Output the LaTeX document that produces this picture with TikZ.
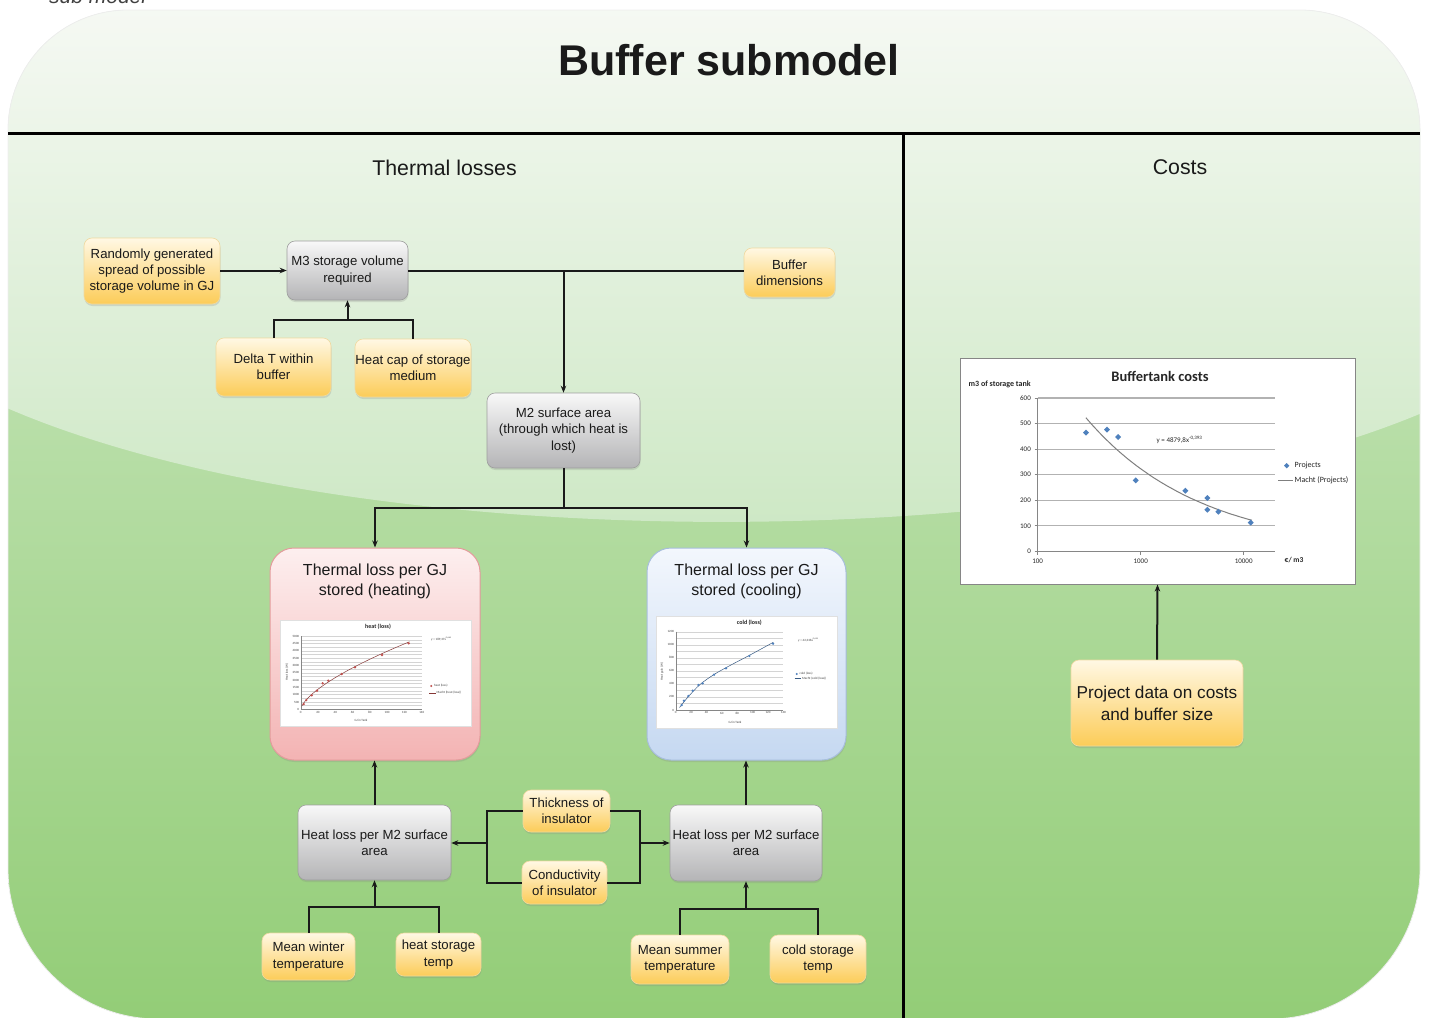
\documentclass[tikz,border=0pt]{standalone}
\usepackage{fontspec}
\setmainfont{Liberation Sans}
\newfontfamily\chartfont{Carlito}
\usetikzlibrary{arrows.meta,shadows,calc}

\definecolor{ink}{HTML}{1A1A1A}
\definecolor{yelTop}{HTML}{FFF8E4}
\definecolor{yelBot}{HTML}{FCCC58}
\definecolor{yelEdge}{HTML}{EFD9A0}
\definecolor{gryTop}{HTML}{F8F8F8}
\definecolor{gryBot}{HTML}{B4B4B6}
\definecolor{gryEdge}{HTML}{9E9E9E}
\definecolor{pinkTop}{HTML}{FDEFEF}
\definecolor{pinkBot}{HTML}{F3B3B3}
\definecolor{pinkEdge}{HTML}{E39C9C}
\definecolor{blueTop}{HTML}{F3F7FD}
\definecolor{blueBot}{HTML}{C5D8F1}
\definecolor{blueEdge}{HTML}{A7BEDC}
\definecolor{bgTop}{HTML}{D2EACA}
\definecolor{bgBot}{HTML}{93CD77}
\definecolor{glossTop}{HTML}{F6F9F4}
\definecolor{glossBot}{HTML}{CBE7C2}
\definecolor{gridC}{HTML}{B2B2B2}
\definecolor{miniGridC}{HTML}{D4D4D4}
\definecolor{axisC}{HTML}{868686}
\definecolor{seriesBlue}{HTML}{4F81BD}
\definecolor{seriesRed}{HTML}{C0504D}
\definecolor{trendC}{HTML}{7F7F7F}

\begin{document}
\begin{tikzpicture}[x=1pt,y=-1pt,
  sz/.style 2 args={minimum width=#1pt, minimum height=#2pt},
  box/.style={rounded corners=8pt, align=center, inner sep=0pt, text=ink,
    font=\fontsize{13.2}{16.3}\selectfont, line width=0.6pt,
    drop shadow={shadow xshift=0.5pt, shadow yshift=-2pt, opacity=0.22}},
  yel/.style={box, top color=yelTop, bottom color=yelBot, draw=yelEdge},
  gry/.style={box, top color=gryTop, bottom color=gryBot, draw=gryEdge},
  pinkbox/.style={box, rounded corners=24pt, top color=pinkTop, bottom color=pinkBot, draw=pinkEdge, line width=1pt},
  bluebox/.style={box, rounded corners=24pt, top color=blueTop, bottom color=blueBot, draw=blueEdge, line width=1pt},
  boxtitle/.style={align=center, text=ink, font=\fontsize{16}{20}\selectfont},
  big/.style={font=\fontsize{17.2}{22}\selectfont},
  chartframe/.style={draw=axisC, fill=white, line width=1pt, minimum width=395pt, minimum height=226pt, inner sep=0pt},
  ln/.style={line width=2pt, draw=ink},
  arr/.style={ln, -{Stealth[length=7pt,width=5.5pt]}},
  head/.style={text=ink, font=\fontsize{21.3}{24}\selectfont},
  grid/.style={draw=gridC, line width=1.1pt},
  minigrid/.style={draw=miniGridC, line width=0.3pt},
  axis/.style={draw=axisC, line width=0.9pt},
  ctick/.style={font=\chartfont\fontsize{7}{8}\selectfont, text=black!85, inner sep=0pt},
  clegend/.style={font=\chartfont\fontsize{8}{9}\selectfont, text=black!85, inner sep=0pt, anchor=west},
  tiny/.style={font=\chartfont\fontsize{3.2}{3.6}\selectfont, text=black!75, inner sep=0pt},
  minititle/.style={font=\chartfont\bfseries\fontsize{6}{7}\selectfont, text=black!85, inner sep=0pt}
]
\useasboundingbox (0,0) rectangle (1429,1017);

% ---------- rounded green panel with glossy top ----------
\begin{scope}
  \clip (8,130) .. controls (8,63.8) and (61.8,10) .. (128,10)
     -- (1300,10) .. controls (1366.2,10) and (1420,63.8) .. (1420,130)
     -- (1420,869) .. controls (1420,951.8) and (1352.8,1019) .. (1270,1019)
     -- (158,1019) .. controls (75.2,1019) and (8,951.8) .. (8,869) -- cycle;
  \shade[top color=bgTop, bottom color=bgBot] (0,0) rectangle (1429,1019);
  \shade[top color=glossTop, bottom color=glossBot]
     (0,0) -- (1429,0) -- (1429,410) .. controls (1080,560) and (350,560) .. (0,405) -- cycle;
\end{scope}
\draw[black!7, line width=0.8pt] (8,130) .. controls (8,63.8) and (61.8,10) .. (128,10)
     -- (1300,10) .. controls (1366.2,10) and (1420,63.8) .. (1420,130)
     -- (1420,869) .. controls (1420,951.8) and (1352.8,1019) .. (1270,1019)
     -- (158,1019) .. controls (75.2,1019) and (8,951.8) .. (8,869) -- cycle;

% caption fragment above the panel
\node[anchor=base west, inner sep=0pt, text=black!75, font=\itshape\fontsize{21}{24}\selectfont] (cap) at (49,4) {sub model};

% ---------- headings and dividers ----------
\node[text=ink, font=\bfseries\fontsize{43}{48}\selectfont] (title) at (729,60) {Buffer submodel};
\draw[line width=3pt, black] (8,133) -- (1420,133);
\draw[line width=3pt, black] (903,134) -- (903,1019);
\node[head] (thermal) at (444.5,168) {Thermal losses};
\node[head] (costs) at (1180,167) {Costs};

% ---------- nodes ----------
\node[yel, sz={136}{66}] (rand) at (152,271) {Randomly generated\\spread of possible\\storage volume in GJ};
\node[gry, sz={121}{59}] (m3) at (347.5,270.5) {M3 storage volume\\required};
\node[yel, sz={91}{49}] (buf) at (789.5,272.5) {Buffer\\dimensions};
\node[yel, sz={115}{58}] (delta) at (273.5,367) {Delta T within\\buffer};
\node[yel, sz={116}{58}] (hcap) at (413,368) {Heat cap of storage\\medium};
\node[gry, sz={153}{75}] (m2) at (563.5,430.5) {M2 surface area\\(through which heat is\\lost)};
\node[pinkbox, sz={210}{212}] (heating) at (375,654) {};
\node[bluebox, sz={199}{212}] (cooling) at (746.5,654) {};
\node[boxtitle] (heatingT) at ($(heating.north)+(0,34)$) {Thermal loss per GJ\\stored (heating)};
\node[boxtitle] (coolingT) at ($(cooling.north)+(0,34)$) {Thermal loss per GJ\\stored (cooling)};
\node[gry, sz={153}{75}] (hl1) at (374.5,842.5) {Heat loss per M2 surface\\area};
\node[gry, sz={152}{76}] (hl2) at (746,843) {Heat loss per M2 surface\\area};
\node[yel, sz={87}{42}] (thick) at (566.5,811) {Thickness of\\insulator};
\node[yel, sz={85}{43}] (cond) at (564.5,882.5) {Conductivity\\of insulator};
\node[yel, sz={93}{47}] (winter) at (308.5,956.5) {Mean winter\\temperature};
\node[yel, sz={85}{43}] (hstore) at (438.5,954.5) {heat storage\\temp};
\node[yel, sz={98}{49}] (summer) at (680,959.5) {Mean summer\\temperature};
\node[yel, sz={96}{48}] (cstore) at (818,959) {cold storage\\temp};
\node[chartframe] (chart) at (1157.5,471) {};
\node[yel, sz={172}{86}, big] (proj) at (1157,703) {Project data on costs\\and buffer size};

% ---------- connectors ----------
\coordinate (jm3) at (347.5,320);
\coordinate (jm2) at (563.5,508);
\coordinate (jl) at (487,843);
\coordinate (jr) at (640,843);
\coordinate (jw) at (374.5,907);
\coordinate (js) at (746,909);

\draw[arr] (rand.east |- m3.west) -- (m3.west);
\draw[ln] (m3.east) -- (m3.east -| buf.west);
\draw[arr] (m3.east -| m2.north) -- (m2.north);
\draw[ln] (delta.north) -- (delta.north |- jm3) -- (hcap.north |- jm3) -- (hcap.north);
\draw[arr] (jm3) -- (m3.south);
\draw[ln] (m2.south) -- (jm2);
\draw[arr] (jm2) -| (heating.north);
\draw[arr] (jm2) -| (cooling.north);
\draw[arr] (hl1.north) -- (hl1.north |- heating.south);
\draw[arr] (hl2.north) -- (hl2.north |- cooling.south);
\draw[ln] (thick.west) -| (jl) |- (cond.west);
\draw[arr] (jl) -- (jl -| hl1.east);
\draw[ln] (thick.east) -| (jr) |- (cond.east);
\draw[arr] (jr) -- (jr -| hl2.west);
\draw[ln] (winter.north) -- (winter.north |- jw) -- (hstore.north |- jw) -- (hstore.north);
\draw[arr] (jw) -- (hl1.south);
\draw[ln] (summer.north) -- (summer.north |- js) -- (cstore.north |- js) -- (cstore.north);
\draw[arr] (js) -- (hl2.south);
\draw[arr] (proj.north) -- (chart.south);

% ---------- mini chart: heat (loss) ----------
\fill[white] (280,620) rectangle (471,726);
\draw[black!12, line width=0.4pt] (280,620) rectangle (471,726);
\foreach \v in {250,500,...,5000}
  \draw[minigrid] (300.7,{709.3-0.01466*\v}) -- (421.7,{709.3-0.01466*\v});
\draw[axisC, line width=0.4pt] (300.7,636) -- (300.7,709.3) -- (421.7,709.3);
\foreach \v in {0,500,...,5000}
  \node[tiny, anchor=east] at (299.3,{709.3-0.01466*\v}) {\v};
\foreach \g in {0,20,...,140}
  \node[tiny, anchor=north] at ({300.7+0.8643*\g},711) {\g};
\node[minititle] at (378,627) {heat (loss)};
\node[tiny, rotate=90] at (287,672) {Heat loss (W)};
\node[tiny] at (361,720.5) {GJ in Tank};
\draw[seriesRed!70!black, line width=0.5pt] plot[domain=1.2:126, samples=40]
  ({300.7+0.8643*\x},{709.3-0.01466*189.37*pow(\x,0.66)});
\foreach \px/\py in {303.7/704, 306.3/700, 311.7/695.3, 317/690.7, 322.7/683.3, 328.3/680.7, 341.7/674, 355/667.3, 382/655, 408.7/643.3}
  \fill[seriesRed] (\px,\py) +(0,-1.3) -- +(1.3,0) -- +(0,1.3) -- +(-1.3,0) -- cycle;
\node[tiny, anchor=west] at (431,639.3) {y = 189,37x\textsuperscript{0,664}};
\fill[seriesRed] (431.3,686) +(0,-1.1) -- +(1.1,0) -- +(0,1.1) -- +(-1.1,0) -- cycle;
\node[tiny, anchor=west] at (434,686) {heat (loss)};
\draw[seriesRed!70!black, line width=0.4pt] (429,692.7) -- (435.5,692.7);
\node[tiny, anchor=west] at (436.5,692.7) {Macht (heat (loss))};

% ---------- mini chart: cold (loss) ----------
\fill[white] (656,616) rectangle (837,728);
\draw[black!12, line width=0.4pt] (656,616) rectangle (837,728);
\foreach \v in {100,200,...,1200}
  \draw[minigrid] (675.7,{710-0.06525*\v}) -- (783.3,{710-0.06525*\v});
\draw[axisC, line width=0.4pt] (675.7,631.7) -- (675.7,710) -- (783.3,710);
\foreach \v in {0,200,...,1200}
  \node[tiny, anchor=east] at (674.3,{710-0.06525*\v}) {\v};
\foreach \g in {0,20,...,140}
  \node[tiny, anchor=north] at ({675.7+0.7686*\g},711.7) {\g};
\node[minititle] at (749.3,622.5) {cold (loss)};
\node[tiny, rotate=90] at (662,671.7) {Heat gain (W)};
\node[tiny] at (735,722.5) {GJ in Tank};
\draw[seriesBlue!70!black, line width=0.5pt] plot[smooth] coordinates
  {(679.5,707.5) (688,697) (700,684.5) (714,674.5) (730,665.5) (750,655) (773.3,642.3)};
\foreach \px/\py in {681.7/705, 684/700.7, 688.3/696, 692.7/690.7, 698.3/685, 702.7/683.3, 714/674.7, 726/668.3, 749.3/656, 773/643.7}
  \fill[seriesBlue] (\px,\py) +(0,-1.3) -- +(1.3,0) -- +(0,1.3) -- +(-1.3,0) -- cycle;
\node[tiny, anchor=west] at (798,640) {y = 42,336x\textsuperscript{0,654}};
\fill[seriesBlue] (796.7,674) +(0,-1.1) -- +(1.1,0) -- +(0,1.1) -- +(-1.1,0) -- cycle;
\node[tiny, anchor=west] at (799.5,674) {cold (loss)};
\draw[seriesBlue!70!black, line width=0.4pt] (794.5,678.3) -- (801,678.3);
\node[tiny, anchor=west] at (802,678.3) {Macht (cold (loss))};

% ---------- Buffertank costs chart ----------
\foreach \v in {100,200,...,600}
  \draw[grid] (1037.7,{551.3-0.2555*\v}) -- (1275,{551.3-0.2555*\v});
\draw[axis] (1037.7,398) -- (1037.7,551.3) -- (1275,551.3);
\foreach \v in {0,100,...,600} {
  \draw[axis] (1034.5,{551.3-0.2555*\v}) -- (1037.7,{551.3-0.2555*\v});
  \node[ctick, anchor=east] at (1031,{551.3-0.2555*\v}) {\v};
}
\foreach \u/\t in {0/100, 1/1000, 2/10000} {
  \draw[axis] ({1037.7+103*\u},551.3) -- ({1037.7+103*\u},554.5);
  \node[ctick, anchor=north] at ({1037.7+103*\u},558.5) {\t};
}
\node[font=\chartfont\bfseries\fontsize{14.5}{16}\selectfont, text=black!85, inner sep=0pt] at (1160,376) {Buffertank costs};
\node[font=\chartfont\bfseries\fontsize{8}{9}\selectfont, text=black!85, inner sep=0pt] at (999.7,384.7) {m3 of storage tank};
\node[font=\chartfont\bfseries\fontsize{7.5}{9}\selectfont, text=black!85, inner sep=0pt] at (1294,560) {€/ m3};
\draw[trendC, line width=1pt] plot[domain=2.468:4.08, samples=50]
  ({1037.7+103*(\x-2)},{551.3-0.2555*4879.8*exp(-0.904916*\x)});
\foreach \px/\py in {1086/432.7, 1107/429.7, 1118/437, 1135.7/480.3, 1185.3/490.7, 1207.3/498, 1207.3/509.7, 1218.3/511.7, 1250.7/522.7}
  \fill[seriesBlue] (\px,\py) +(0,-3) -- +(3,0) -- +(0,3) -- +(-3,0) -- cycle;
\node[font=\chartfont\fontsize{7}{8}\selectfont, text=black!85, inner sep=0pt, anchor=west] at (1156.5,439.7) {y = 4879,8x\textsuperscript{-0,393}};
\fill[seriesBlue] (1286.7,465.7) +(0,-2.7) -- +(2.7,0) -- +(0,2.7) -- +(-2.7,0) -- cycle;
\node[clegend] at (1294.5,465.7) {Projects};
\draw[trendC, line width=1pt] (1278,480.3) -- (1293,480.3);
\node[clegend] at (1294.5,480.3) {Macht (Projects)};
\end{tikzpicture}
\end{document}
